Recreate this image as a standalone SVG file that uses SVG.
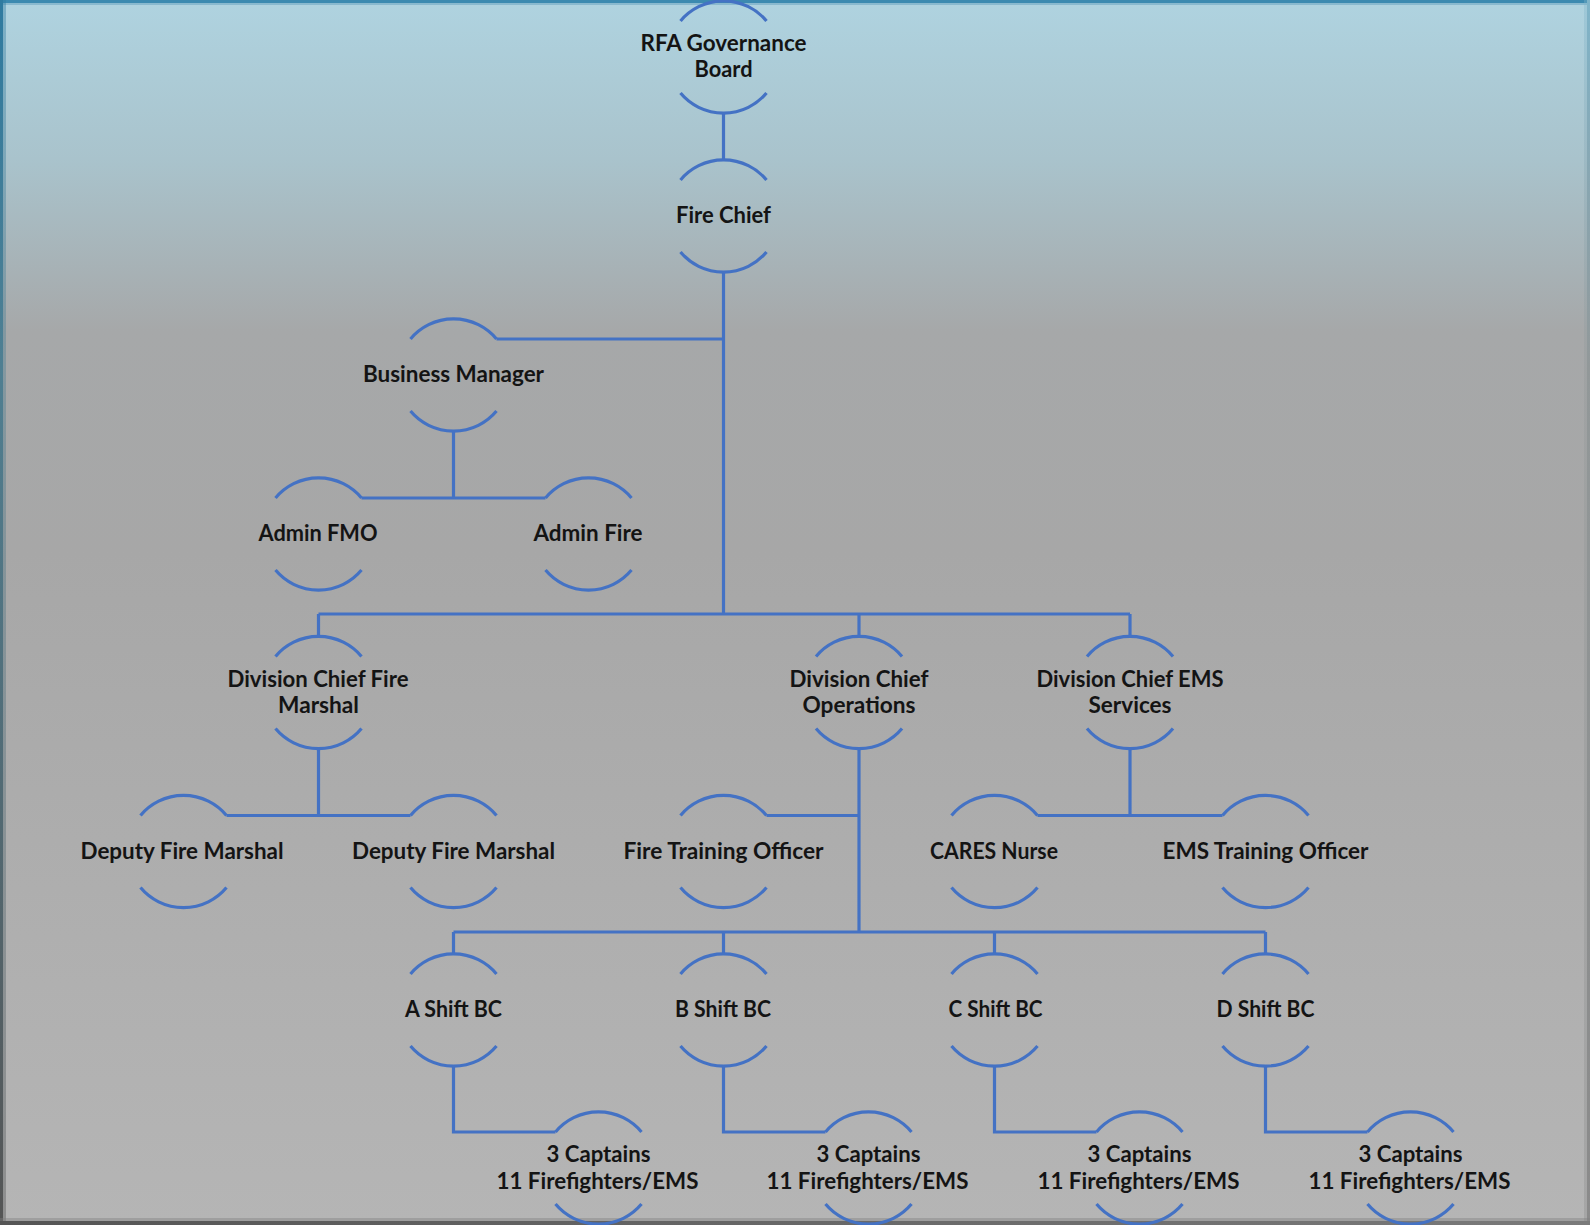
<svg xmlns="http://www.w3.org/2000/svg" width="1590" height="1225" viewBox="0 0 1590 1225">
  <defs>
    <linearGradient id="bg" x1="0" y1="0" x2="0" y2="1">
      <stop offset="0" stop-color="#afd3e0"/>
      <stop offset="0.13" stop-color="#a9c3cc"/>
      <stop offset="0.27" stop-color="#a6a8a9"/>
      <stop offset="0.45" stop-color="#a7a7a7"/>
      <stop offset="1" stop-color="#b5b5b5"/>
    </linearGradient>
    <linearGradient id="vEdgeL" x1="0" y1="0" x2="0" y2="1">
      <stop offset="0" stop-color="#2f7ba0"/>
      <stop offset="0.3" stop-color="#4f7f92"/>
      <stop offset="1" stop-color="#555555"/>
    </linearGradient>
    <linearGradient id="vEdgeR" x1="0" y1="0" x2="0" y2="1">
      <stop offset="0" stop-color="#7fb4c9"/>
      <stop offset="0.3" stop-color="#929899"/>
      <stop offset="1" stop-color="#8a8a8a"/>
    </linearGradient>
    <linearGradient id="hEdgeB" x1="0" y1="0" x2="1" y2="0">
      <stop offset="0" stop-color="#555555"/>
      <stop offset="1" stop-color="#7a7a7a"/>
    </linearGradient>
  </defs>
  <style>
    .arc { fill: none; stroke: #4472c4; stroke-width: 3.2; }
    .conn path { fill: none; stroke: #4472c4; stroke-width: 3.2; stroke-linejoin: miter; }
    text { font-family: Lato, "Open Sans", "Liberation Sans", sans-serif; font-weight: 700; font-size: 22px; fill: #141414; text-anchor: middle; }
  </style>

  <!-- background and frame -->
  <rect x="0" y="0" width="1590" height="1225" fill="url(#bg)"/>
  <rect x="0" y="0" width="1590" height="3" fill="#3c8ab0"/>
  <rect x="0" y="3" width="1590" height="2" fill="#6fa9c3" opacity="0.6"/>
  <rect x="0" y="0" width="3" height="1225" fill="url(#vEdgeL)"/>
  <rect x="3" y="0" width="3" height="1225" fill="url(#vEdgeL)" opacity="0.4"/>
  <rect x="1587" y="0" width="3" height="1225" fill="url(#vEdgeR)"/>
  <rect x="1584" y="0" width="3" height="1225" fill="url(#vEdgeR)" opacity="0.35"/>
  <rect x="0" y="1221" width="1590" height="4" fill="url(#hEdgeB)"/>
  <rect x="0" y="1218" width="1590" height="3" fill="#7d7d7d" opacity="0.4"/>

  <!-- connectors -->
  <g id="connectors" class="conn">
    <path d="M723.5 113 V160"/>
    <path d="M723.5 272 V614"/>
    <path d="M496.5 339 H723.5"/>
    <path d="M453.5 431 V498"/>
    <path d="M361.5 498 H545.5"/>
    <path d="M318.5 614 H1130"/>
    <path d="M318.5 614 V636.5"/>
    <path d="M859 614 V636.5"/>
    <path d="M1130 614 V636.5"/>
    <path d="M318.5 748.5 V815.5"/>
    <path d="M226.5 815.5 H410.5"/>
    <path d="M859 748.5 V932"/>
    <path d="M766.5 815.5 H859"/>
    <path d="M1130 748.5 V815.5"/>
    <path d="M1037.5 815.5 H1222.5"/>
    <path d="M453.5 932 H1265.5"/>
    <path d="M453.5 932 V954"/>
    <path d="M723.5 932 V954"/>
    <path d="M994.5 932 V954"/>
    <path d="M1265.5 932 V954"/>
    <path d="M453.5 1066 V1132 H555.5"/>
    <path d="M723.5 1066 V1132 H825.5"/>
    <path d="M994.5 1066 V1132 H1096.5"/>
    <path d="M1265.5 1066 V1132 H1367.5"/>
  </g>

  <!-- nodes -->
  <g id="rfa-board">
    <path class="arc" d="M680.5 21 A56 56 0 0 1 766.5 21"/>
    <path class="arc" d="M680.5 93 A56 56 0 0 0 766.5 93"/>
    <text x="723.5" y="50.5" textLength="166" lengthAdjust="spacingAndGlyphs">RFA Governance</text>
    <text x="723.5" y="77" textLength="58" lengthAdjust="spacingAndGlyphs">Board</text>
  </g>
  <g id="fire-chief">
    <path class="arc" d="M680.5 180 A56 56 0 0 1 766.5 180"/>
    <path class="arc" d="M680.5 252 A56 56 0 0 0 766.5 252"/>
    <text x="723.5" y="223" textLength="95" lengthAdjust="spacingAndGlyphs">Fire Chief</text>
  </g>
  <g id="business-manager">
    <path class="arc" d="M410.5 339 A56 56 0 0 1 496.5 339"/>
    <path class="arc" d="M410.5 411 A56 56 0 0 0 496.5 411"/>
    <text x="453.5" y="382" textLength="181" lengthAdjust="spacingAndGlyphs">Business Manager</text>
  </g>
  <g id="admin-fmo">
    <path class="arc" d="M275.5 498 A56 56 0 0 1 361.5 498"/>
    <path class="arc" d="M275.5 570 A56 56 0 0 0 361.5 570"/>
    <text x="318" y="541" textLength="119" lengthAdjust="spacingAndGlyphs">Admin FMO</text>
  </g>
  <g id="admin-fire">
    <path class="arc" d="M545.5 498 A56 56 0 0 1 631.5 498"/>
    <path class="arc" d="M545.5 570 A56 56 0 0 0 631.5 570"/>
    <text x="588" y="541" textLength="109" lengthAdjust="spacingAndGlyphs">Admin Fire</text>
  </g>
  <g id="dc-fire-marshal">
    <path class="arc" d="M275.5 656.5 A56 56 0 0 1 361.5 656.5"/>
    <path class="arc" d="M275.5 728.5 A56 56 0 0 0 361.5 728.5"/>
    <text x="318" y="686.5" textLength="181" lengthAdjust="spacingAndGlyphs">Division Chief Fire</text>
    <text x="318.5" y="713" textLength="81" lengthAdjust="spacingAndGlyphs">Marshal</text>
  </g>
  <g id="dc-operations">
    <path class="arc" d="M816 656.5 A56 56 0 0 1 902 656.5"/>
    <path class="arc" d="M816 728.5 A56 56 0 0 0 902 728.5"/>
    <text x="859" y="686.5" textLength="139" lengthAdjust="spacingAndGlyphs">Division Chief</text>
    <text x="859" y="713" textLength="113" lengthAdjust="spacingAndGlyphs">Operations</text>
  </g>
  <g id="dc-ems">
    <path class="arc" d="M1087 656.5 A56 56 0 0 1 1173 656.5"/>
    <path class="arc" d="M1087 728.5 A56 56 0 0 0 1173 728.5"/>
    <text x="1130" y="686.5" textLength="187" lengthAdjust="spacingAndGlyphs">Division Chief EMS</text>
    <text x="1130" y="713" textLength="83" lengthAdjust="spacingAndGlyphs">Services</text>
  </g>
  <g id="deputy-fm-1">
    <path class="arc" d="M140.5 815.5 A56 56 0 0 1 226.5 815.5"/>
    <path class="arc" d="M140.5 887.5 A56 56 0 0 0 226.5 887.5"/>
    <text x="182" y="858.5" textLength="203" lengthAdjust="spacingAndGlyphs">Deputy Fire Marshal</text>
  </g>
  <g id="deputy-fm-2">
    <path class="arc" d="M410.5 815.5 A56 56 0 0 1 496.5 815.5"/>
    <path class="arc" d="M410.5 887.5 A56 56 0 0 0 496.5 887.5"/>
    <text x="453.5" y="858.5" textLength="203" lengthAdjust="spacingAndGlyphs">Deputy Fire Marshal</text>
  </g>
  <g id="fire-training-officer">
    <path class="arc" d="M680.5 815.5 A56 56 0 0 1 766.5 815.5"/>
    <path class="arc" d="M680.5 887.5 A56 56 0 0 0 766.5 887.5"/>
    <text x="723.5" y="858.5" textLength="200" lengthAdjust="spacingAndGlyphs">Fire Training Officer</text>
  </g>
  <g id="cares-nurse">
    <path class="arc" d="M951.5 815.5 A56 56 0 0 1 1037.5 815.5"/>
    <path class="arc" d="M951.5 887.5 A56 56 0 0 0 1037.5 887.5"/>
    <text x="994" y="858.5" textLength="128" lengthAdjust="spacingAndGlyphs">CARES Nurse</text>
  </g>
  <g id="ems-training-officer">
    <path class="arc" d="M1222.5 815.5 A56 56 0 0 1 1308.5 815.5"/>
    <path class="arc" d="M1222.5 887.5 A56 56 0 0 0 1308.5 887.5"/>
    <text x="1265.5" y="858.5" textLength="206" lengthAdjust="spacingAndGlyphs">EMS Training Officer</text>
  </g>
  <g id="a-shift-bc">
    <path class="arc" d="M410.5 974 A56 56 0 0 1 496.5 974"/>
    <path class="arc" d="M410.5 1046 A56 56 0 0 0 496.5 1046"/>
    <text x="453.5" y="1017" textLength="97" lengthAdjust="spacingAndGlyphs">A Shift BC</text>
  </g>
  <g id="b-shift-bc">
    <path class="arc" d="M680.5 974 A56 56 0 0 1 766.5 974"/>
    <path class="arc" d="M680.5 1046 A56 56 0 0 0 766.5 1046"/>
    <text x="723" y="1017" textLength="96" lengthAdjust="spacingAndGlyphs">B Shift BC</text>
  </g>
  <g id="c-shift-bc">
    <path class="arc" d="M951.5 974 A56 56 0 0 1 1037.5 974"/>
    <path class="arc" d="M951.5 1046 A56 56 0 0 0 1037.5 1046"/>
    <text x="995.5" y="1017" textLength="94" lengthAdjust="spacingAndGlyphs">C Shift BC</text>
  </g>
  <g id="d-shift-bc">
    <path class="arc" d="M1222.5 974 A56 56 0 0 1 1308.5 974"/>
    <path class="arc" d="M1222.5 1046 A56 56 0 0 0 1308.5 1046"/>
    <text x="1265.5" y="1017" textLength="98" lengthAdjust="spacingAndGlyphs">D Shift BC</text>
  </g>
  <g id="a-shift-crew">
    <path class="arc" d="M555.5 1132 A56 56 0 0 1 641.5 1132"/>
    <path class="arc" d="M555.5 1204 A56 56 0 0 0 641.5 1204"/>
    <text x="598.5" y="1162" textLength="104" lengthAdjust="spacingAndGlyphs">3 Captains</text>
    <text x="597.5" y="1188.5" textLength="202" lengthAdjust="spacingAndGlyphs">11 Firefighters/EMS</text>
  </g>
  <g id="b-shift-crew">
    <path class="arc" d="M825.5 1132 A56 56 0 0 1 911.5 1132"/>
    <path class="arc" d="M825.5 1204 A56 56 0 0 0 911.5 1204"/>
    <text x="868.5" y="1162" textLength="104" lengthAdjust="spacingAndGlyphs">3 Captains</text>
    <text x="867.5" y="1188.5" textLength="202" lengthAdjust="spacingAndGlyphs">11 Firefighters/EMS</text>
  </g>
  <g id="c-shift-crew">
    <path class="arc" d="M1096.5 1132 A56 56 0 0 1 1182.5 1132"/>
    <path class="arc" d="M1096.5 1204 A56 56 0 0 0 1182.5 1204"/>
    <text x="1139.5" y="1162" textLength="104" lengthAdjust="spacingAndGlyphs">3 Captains</text>
    <text x="1138.5" y="1188.5" textLength="202" lengthAdjust="spacingAndGlyphs">11 Firefighters/EMS</text>
  </g>
  <g id="d-shift-crew">
    <path class="arc" d="M1367.5 1132 A56 56 0 0 1 1453.5 1132"/>
    <path class="arc" d="M1367.5 1204 A56 56 0 0 0 1453.5 1204"/>
    <text x="1410.5" y="1162" textLength="104" lengthAdjust="spacingAndGlyphs">3 Captains</text>
    <text x="1409.5" y="1188.5" textLength="202" lengthAdjust="spacingAndGlyphs">11 Firefighters/EMS</text>
  </g>
</svg>
